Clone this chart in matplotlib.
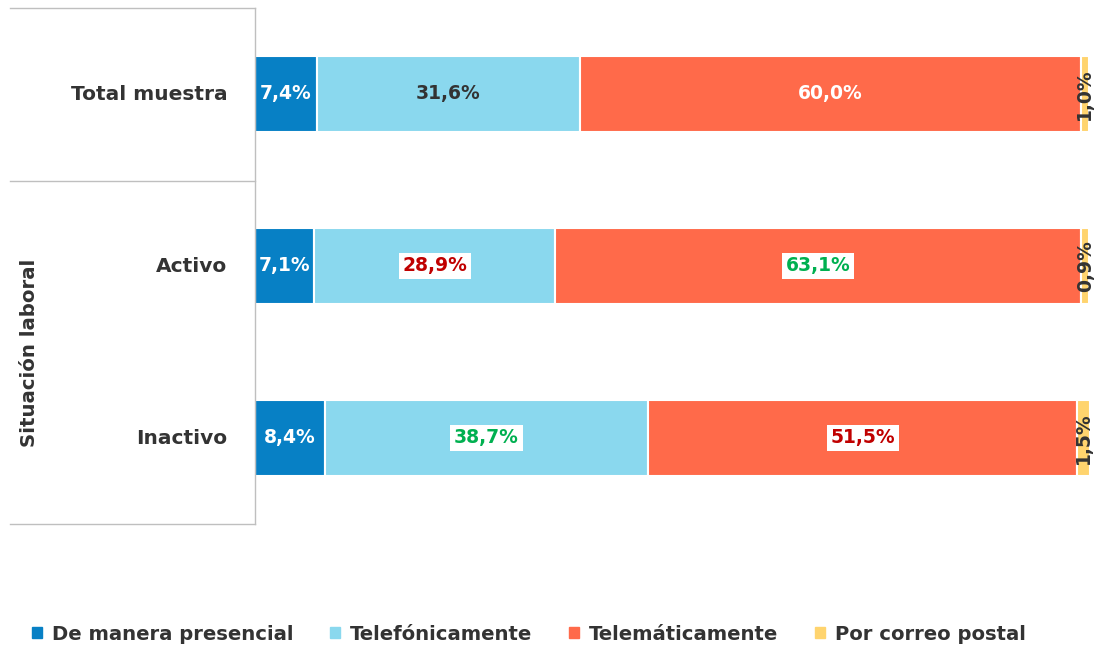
import numpy as np
import matplotlib.pyplot as plt
from matplotlib.patches import Rectangle
from matplotlib.lines import Line2D

categories = ["Total muestra", "Activo", "Inactivo"]
series_names = ["De manera presencial", "Telefónicamente", "Telemáticamente", "Por correo postal"]
presencial = [7.4, 7.1, 8.4]
telefonica = [31.6, 28.9, 38.7]
telematica = [60.0, 63.1, 51.5]
postal = [1.0, 0.9, 1.5]
group_label = "Situación laboral"

colors = ["#0780C5", "#8AD8EE", "#FF6A4A", "#FFD46E"]
dark = "#333333"
red = "#C00000"
green = "#00B050"

# label styling per row: (text colour, boxed?) for each segment
label_styles = [
    [("white", False), (dark, False), ("white", False), (dark, False)],
    [("white", False), (red, True), (green, True), (dark, False)],
    [("white", False), (green, True), (red, True), (dark, False)],
]

W, H = 1100, 648
fig = plt.figure(figsize=(W / 100, H / 100), dpi=100)
ax = fig.add_axes([255 / W, 1 - 524 / H, (1089 - 255) / W, (524 - 8) / H])
ax.set_xlim(0, 100)
ax.set_ylim(3.0, 0.0)
ax.axis("off")

yy = np.array([0.5, 1.5, 2.5])
data = [presencial, telefonica, telematica, postal]
left = np.zeros(3)
for k, vals in enumerate(data):
    vals = np.array(vals)
    ax.barh(yy, vals, left=left, height=0.44, color=colors[k],
            edgecolor="white", linewidth=1.5)
    for i in range(3):
        txt = f"{vals[i]:.1f}%".replace(".", ",")
        col, boxed = label_styles[i][k]
        cx = left[i] + vals[i] / 2
        if k == 3:
            ax.text(cx, yy[i], txt, rotation=90, ha="center", va="center",
                    color=col, fontsize=13.5, fontweight="bold")
        else:
            bbox = dict(boxstyle="square,pad=0.2", fc="white", ec="none") if boxed else None
            ax.text(cx, yy[i], txt, ha="center", va="center", color=col,
                    fontsize=13.5, fontweight="bold", bbox=bbox)
    left = left + vals

# table-like frame on the left
def fx(px):
    return px / W

def fy(py):
    return 1 - py / H

line_kw = dict(color="#BFBFBF", linewidth=1.0, transform=fig.transFigure)
fig.add_artist(Line2D([fx(10), fx(255)], [fy(8), fy(8)], **line_kw))
fig.add_artist(Line2D([fx(10), fx(255)], [fy(181), fy(181)], **line_kw))
fig.add_artist(Line2D([fx(10), fx(255)], [fy(524), fy(524)], **line_kw))
fig.add_artist(Line2D([fx(255), fx(255)], [fy(8), fy(524)], **line_kw))

for i, cat in enumerate(categories):
    ax.text(-3.3, yy[i], cat, ha="right", va="center", color=dark,
            fontsize=14.5, fontweight="bold")

fig.text(fx(30), fy(353), group_label, rotation=90, ha="center", va="center",
         color=dark, fontsize=14.2, fontweight="bold")

# legend
handles = [Rectangle((0, 0), 1, 1, color=c) for c in colors]
fig.legend(handles, series_names, loc="center", bbox_to_anchor=(fx(529), fy(634)),
           ncol=4, frameon=False, handlelength=0.5, handleheight=0.5,
           handletextpad=0.5, columnspacing=1.9,
           prop=dict(size=14.1, weight="bold"), labelcolor=dark)

fig.savefig("out.png", dpi=100)
